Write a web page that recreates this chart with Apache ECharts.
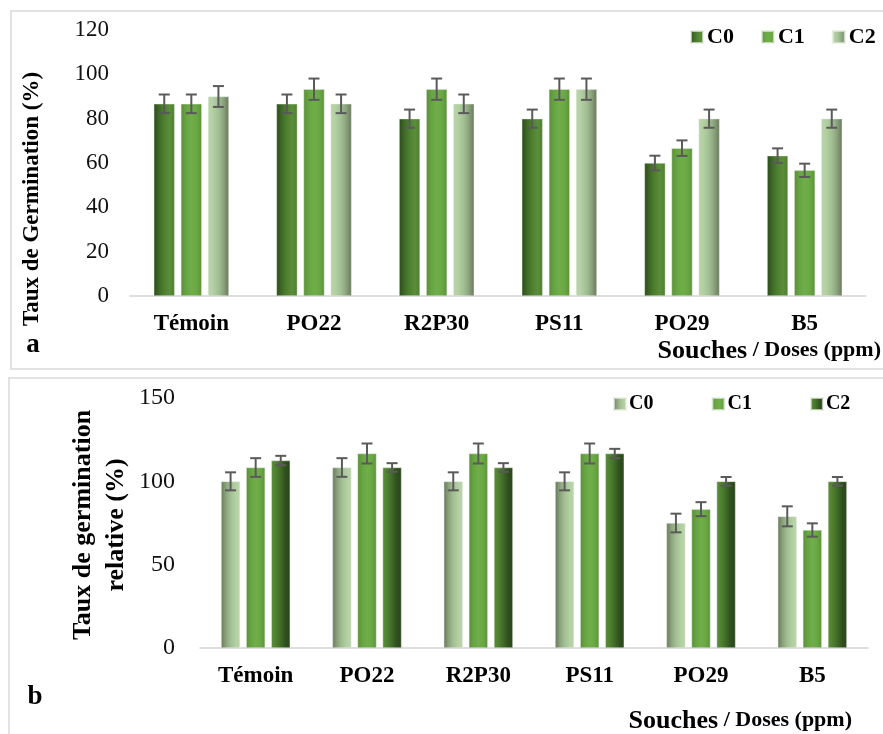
<!DOCTYPE html>
<html>
<head>
<meta charset="utf-8">
<script src="https://cdn.jsdelivr.net/npm/echarts@6/dist/echarts.min.js"></script>
<style>
  html, body { margin: 0; padding: 0; background: #ffffff; }
  #chart { width: 883px; height: 734px; }
</style>
</head>
<body>
<div id="chart"></div>
<script>
// ---------- DATA ----------
const categories = ['Témoin', 'PO22', 'R2P30', 'PS11', 'PO29', 'B5'];
const doses = ['C0', 'C1', 'C2'];

// Panel a : Taux de Germination (%)
const germC0 = [86.7, 86.7, 80.0, 80.0, 60.0, 63.3];
const germC1 = [86.7, 93.3, 93.3, 93.3, 66.7, 56.7];
const germC2 = [90.0, 86.7, 86.7, 93.3, 80.0, 80.0];
const germErrC0 = [4.2, 4.2, 4.1, 4.1, 3.3, 3.3];
const germErrC1 = [4.2, 4.8, 4.8, 4.8, 3.5, 3.0];
const germErrC2 = [4.7, 4.2, 4.2, 4.8, 4.1, 4.1];
const germTicks = [0, 20, 40, 60, 80, 100, 120];

// Panel b : Taux de germination relative (%)
const relC0 = [100.0, 108.3, 100.0, 100.0, 75.0, 79.0];
const relC1 = [108.3, 116.7, 116.7, 116.7, 83.3, 70.8];
const relC2 = [112.5, 108.3, 108.3, 116.7, 100.0, 100.0];
const relErrC0 = [5.4, 5.6, 5.4, 5.4, 5.6, 6.0];
const relErrC1 = [5.6, 6.0, 6.0, 6.0, 4.2, 4.0];
const relErrC2 = [2.8, 2.6, 2.6, 2.8, 2.6, 2.6];
const relTicks = [0, 50, 100, 150];

// ---------- STYLE ----------
const FONT = 'Liberation Serif';
const grad = (stops) => new echarts.graphic.LinearGradient(0, 0, 1, 0,
  stops.map((c, i) => ({ offset: i / (stops.length - 1), color: c })));

const colA = [
  grad(['#2c4a1b', '#3f6a27', '#4f8031', '#5a8e39', '#4f7f32']),
  grad(['#5a8f38', '#67a443', '#6fae48', '#6aa845', '#5a9237']),
  grad(['#bad5aa', '#b2cfa2', '#a2bf93', '#8aa27c', '#66775a'])
];
const colB = [
  grad(['#66795a', '#8aa27c', '#a2bf93', '#b2cfa2', '#bad5aa']),
  grad(['#5a8f38', '#67a443', '#6fae48', '#6aa845', '#5a9237']),
  grad(['#5a8e39', '#4f8031', '#3f6a27', '#2f4f1d', '#2a461a'])
];

const A = { bw: 21, gap: 0.29 };
const B = { bw: 19, gap: 0.32 };

function errRenderer(cfg, idx) {
  return function (params, api) {
    const c = api.value(0), v = api.value(1), e = api.value(2);
    const off = (idx - 1) * cfg.bw * (1 + cfg.gap);
    const t = api.coord([c, v + e]);
    const b = api.coord([c, v - e]);
    const x = t[0] + off;
    const cap = 5.5;
    const st = { stroke: '#5a5a5a', lineWidth: 2 };
    return {
      type: 'group',
      children: [
        { type: 'line', shape: { x1: x, y1: t[1], x2: x, y2: b[1] }, style: st },
        { type: 'line', shape: { x1: x - cap, y1: t[1], x2: x + cap, y2: t[1] }, style: st },
        { type: 'line', shape: { x1: x - cap, y1: b[1], x2: x + cap, y2: b[1] }, style: st }
      ]
    };
  };
}

const valsA = [germC0, germC1, germC2];
const errsA = [germErrC0, germErrC1, germErrC2];
const valsB = [relC0, relC1, relC2];
const errsB = [relErrC0, relErrC1, relErrC2];

const series = [];
doses.forEach((d, i) => {
  series.push({
    name: d, type: 'bar', xAxisIndex: 0, yAxisIndex: 0,
    barWidth: A.bw, barGap: (A.gap * 100) + '%',
    itemStyle: { color: colA[i], borderColor: 'rgba(230,235,225,0.7)', borderWidth: 0.6 },
    data: valsA[i], animation: false
  });
});
doses.forEach((d, i) => {
  series.push({
    name: d, type: 'bar', xAxisIndex: 1, yAxisIndex: 1,
    barWidth: B.bw, barGap: (B.gap * 100) + '%',
    itemStyle: { color: colB[i], borderColor: 'rgba(230,235,225,0.7)', borderWidth: 0.6 },
    data: valsB[i], animation: false
  });
});
doses.forEach((d, i) => {
  series.push({
    name: 'errA' + i, type: 'custom', xAxisIndex: 0, yAxisIndex: 0, z: 5,
    renderItem: errRenderer(A, i), encode: { x: 0, y: 1 },
    data: valsA[i].map((v, k) => [k, v, errsA[i][k]]), animation: false
  });
  series.push({
    name: 'errB' + i, type: 'custom', xAxisIndex: 1, yAxisIndex: 1, z: 5,
    renderItem: errRenderer(B, i), encode: { x: 0, y: 1 },
    data: valsB[i].map((v, k) => [k, v, errsB[i][k]]), animation: false
  });
});

const catAxis = (gi, margin) => ({
  type: 'category', gridIndex: gi, data: categories,
  axisLine: { lineStyle: { color: '#d4d4d4', width: 1.5 } },
  axisTick: { show: false },
  axisLabel: { fontFamily: FONT, fontWeight: 'bold', fontSize: 23, color: '#000', margin: margin }
});
const valAxis = (gi, ticks, fs, margin) => ({
  type: 'value', gridIndex: gi, min: ticks[0], max: ticks[ticks.length - 1],
  interval: ticks[1] - ticks[0],
  axisLine: { show: false }, axisTick: { show: false }, splitLine: { show: false },
  axisLabel: { fontFamily: FONT, fontSize: fs, color: '#111', margin: margin }
});

const axisTitleRich = {
  big: { fontFamily: FONT, fontWeight: 'bold', fontSize: 26, lineHeight: 26, verticalAlign: 'bottom', fill: '#000' },
  small: { fontFamily: FONT, fontWeight: 'bold', fontSize: 22, lineHeight: 22, verticalAlign: 'bottom',
    padding: [0, 0, 3, 0], fill: '#000' }
};

const option = {
  backgroundColor: '#ffffff',
  animation: false,
  grid: [
    { left: 130, right: 17, top: 30, bottom: 438 },
    { left: 200, right: 15, top: 398, bottom: 86 }
  ],
  xAxis: [catAxis(0, 17), catAxis(1, 17)],
  yAxis: [valAxis(0, germTicks, 23, 21), valAxis(1, relTicks, 24, 25)],
  legend: [
    {
      left: 685, top: 21, itemWidth: 12, itemHeight: 12, itemGap: 27, icon: 'rect',
      textStyle: { fontFamily: FONT, fontWeight: 'bold', fontSize: 22, color: '#000', padding: [0, 0, 0, -1] },
      data: doses.map((d, i) => ({ name: d, itemStyle: { color: colA[i] } })),
      selectedMode: false
    },
    {
      left: 608, top: 389, itemWidth: 12, itemHeight: 12, itemGap: 58, icon: 'rect',
      textStyle: { fontFamily: FONT, fontWeight: 'bold', fontSize: 20, color: '#000', padding: [0, 0, 0, -2] },
      data: doses.map((d, i) => ({ name: d, itemStyle: { color: colB[i] } })),
      selectedMode: false
    }
  ],
  graphic: [
    { type: 'rect', shape: { x: 11, y: 11, width: 880, height: 358 },
      style: { fill: 'none', stroke: '#d9d9d9', lineWidth: 1.5 }, silent: true },
    { type: 'rect', shape: { x: 9, y: 378, width: 880, height: 370 },
      style: { fill: 'none', stroke: '#d9d9d9', lineWidth: 1.5 }, silent: true },
    { type: 'text', x: 32, y: 199, rotation: Math.PI / 2,
      style: { text: 'Taux de Germination (%)', fontFamily: FONT, fontWeight: 'bold', fontSize: 23,
        fill: '#000', textAlign: 'center', textVerticalAlign: 'middle' } },
    { type: 'text', x: 100, y: 525, rotation: Math.PI / 2,
      style: { text: 'Taux de germination\nrelative (%)', fontFamily: FONT, fontWeight: 'bold', fontSize: 26,
        lineHeight: 33, fill: '#000', textAlign: 'center', textVerticalAlign: 'middle' } },
    { type: 'text', x: 33, y: 345,
      style: { text: 'a', fontFamily: FONT, fontWeight: 'bold', fontSize: 27, fill: '#000',
        textAlign: 'center', textVerticalAlign: 'middle' } },
    { type: 'text', x: 35, y: 697,
      style: { text: 'b', fontFamily: FONT, fontWeight: 'bold', fontSize: 27, fill: '#000',
        textAlign: 'center', textVerticalAlign: 'middle' } },
    { type: 'text', x: 881, y: 351,
      style: { text: '{big|Souches}{small| / Doses (ppm)}', textAlign: 'right', textVerticalAlign: 'middle',
        rich: axisTitleRich } },
    { type: 'text', x: 852, y: 721,
      style: { text: '{big|Souches}{small| / Doses (ppm)}', textAlign: 'right', textVerticalAlign: 'middle',
        rich: axisTitleRich } }
  ],
  series: series
};

const chart = echarts.init(document.getElementById('chart'), null, { renderer: 'canvas' });
chart.setOption(option);
</script>
</body>
</html>
